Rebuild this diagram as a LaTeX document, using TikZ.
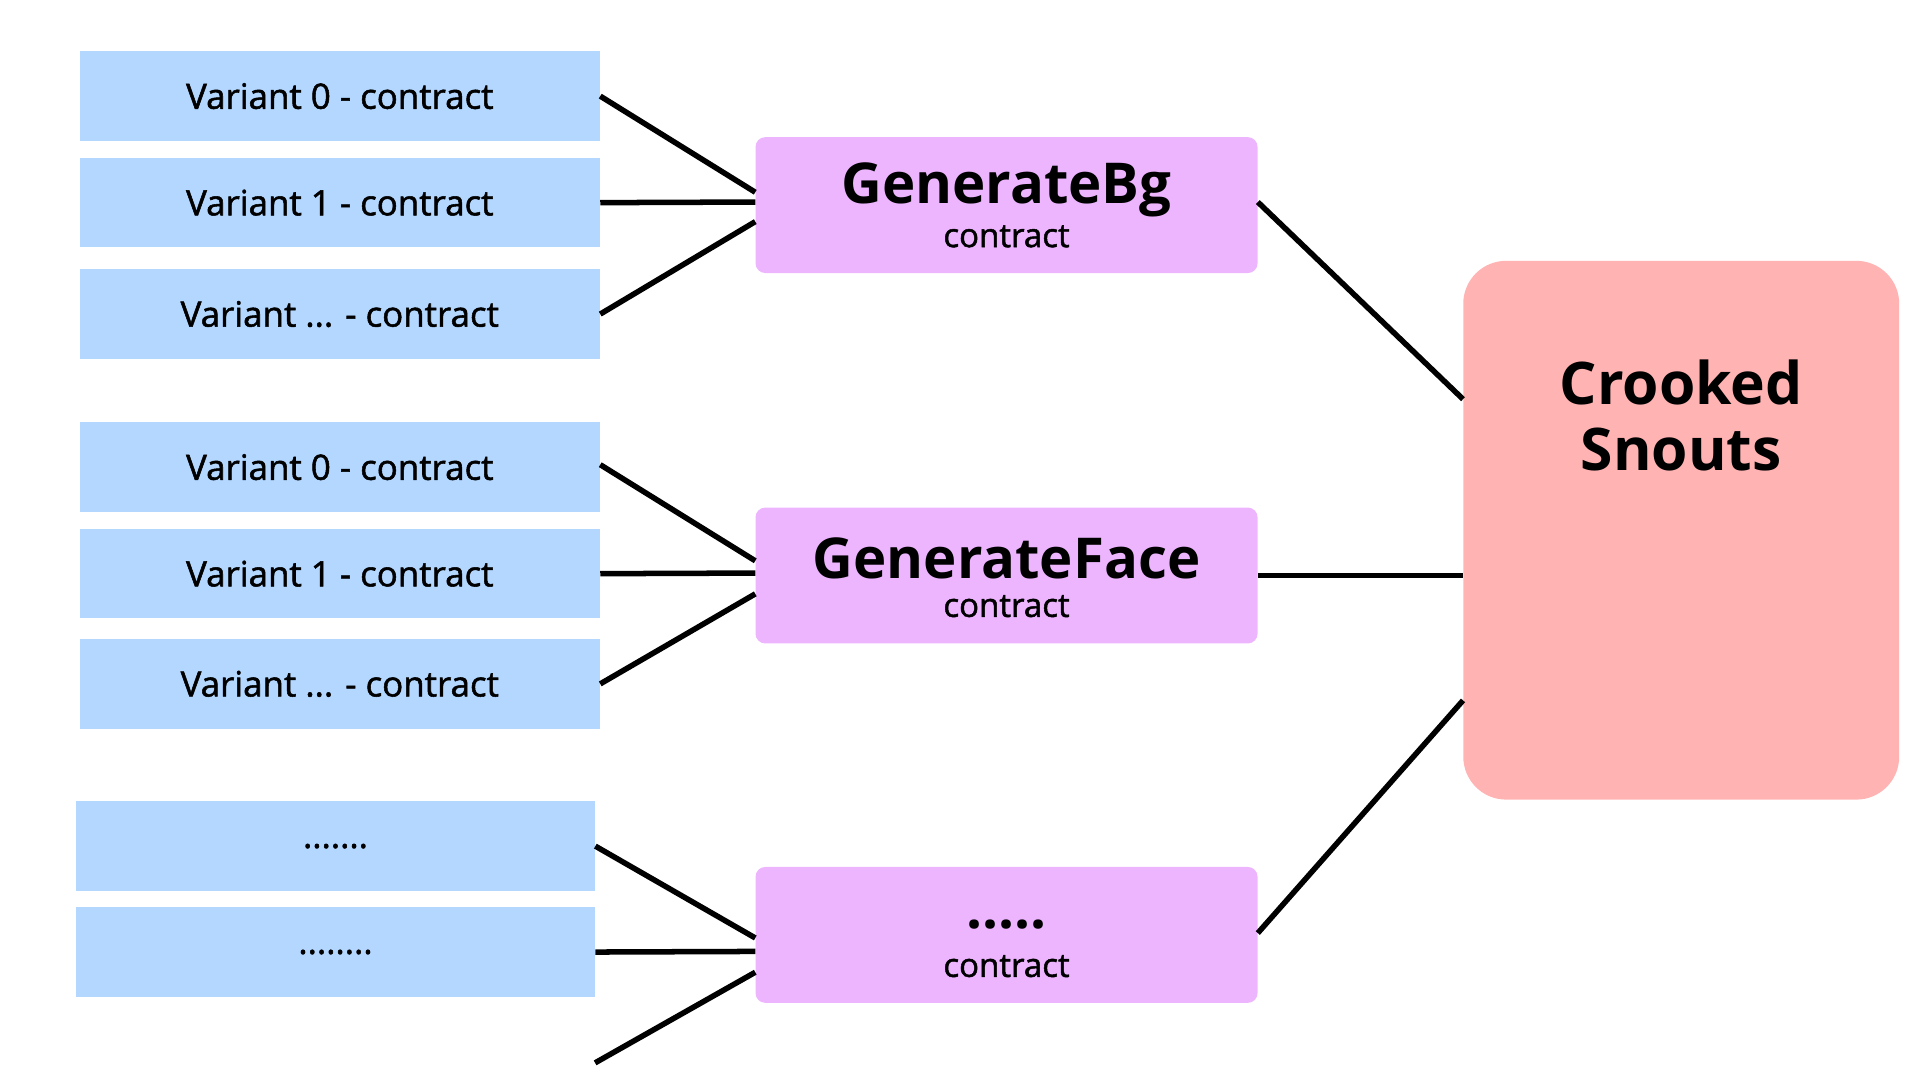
\documentclass[tikz,border=0pt]{standalone}
\usepackage{fontspec}
\setmainfont{Open Sans}
\newfontfamily\semib{Open Sans}[FakeBold=1.5]
\begin{document}
\begin{tikzpicture}[x=1pt,y=-1pt,
 blue/.style={fill={rgb,255:red,179;green,215;blue,255},draw=none,minimum width=425pt,minimum height=73pt,inner sep=0pt,font=\semib\fontsize{28.5}{30}\selectfont},
 pink/.style={fill={rgb,255:red,237;green,181;blue,254},draw=none,rounded corners=8pt,minimum width=410pt,minimum height=111pt,inner sep=0pt},
 title/.style={font=\fontsize{46}{46}\selectfont\bfseries,inner sep=0pt},
 sub/.style={font=\semib\fontsize{27}{30}\selectfont,inner sep=0pt},
 conn/.style={line width=4.5pt}]
\useasboundingbox (0,0) rectangle (1568,882);
\node[blue] (a0) at (277.5,78.5) {Variant 0 - contract};
\node[blue] (a1) at (277.5,165.5) {Variant 1 - contract};
\node[blue] (a2) at (277.5,256.5) {Variant ... - contract};
\node[blue] (b0) at (277.5,381.5) {Variant 0 - contract};
\node[blue] (b1) at (277.5,468.5) {Variant 1 - contract};
\node[blue] (b2) at (277.5,558.5) {Variant ... - contract};
\node[blue,minimum width=424pt] (c0) at (274,691) {.......};
\node[blue,minimum width=424pt] (c1) at (274,777.5) {........};
\node[pink] (g1) at (822,167.5) {};
\node[title] (g1t) at (822,155) {GenerateBg};
\node[sub] (g1s) at (822,193) {contract};
\node[pink] (g2) at (822,470) {};
\node[title] (g2t) at (822,456) {GenerateFace};
\node[sub] (g2s) at (822,495) {contract};
\node[pink] (g3) at (822,763.5) {};
\node[title] (g3t) at (822,755) {.....};
\node[sub] (g3s) at (822,789) {contract};
\node[fill={rgb,255:red,255;green,179;blue,179},rounded corners=35pt,minimum width=356pt,minimum height=440pt,inner sep=0pt] (cs) at (1373,433) {};
\node[font=\fontsize{48}{54}\selectfont\bfseries,align=center] (cst) at (1373,339) {Crooked\\Snouts};
\coordinate (free) at (486,868);
\draw[conn] (a0.east) -- ([yshift=10.5pt]g1.west);
\draw[conn] (a1.east) -- ([yshift=2.5pt]g1.west);
\draw[conn] (a2.east) -- ([yshift=-13.5pt]g1.west);
\draw[conn] ([yshift=2pt]b0.east) -- ([yshift=12pt]g2.west);
\draw[conn] (b1.east) -- ([yshift=2pt]g2.west);
\draw[conn] (b2.east) -- ([yshift=-15pt]g2.west);
\draw[conn] (c0.east) -- ([yshift=-2.5pt]g3.west);
\draw[conn] (c1.east) -- ([yshift=-13.5pt]g3.west);
\draw[conn] (free) -- ([yshift=-30.5pt]g3.west);
\draw[conn] ([yshift=2.5pt]g1.east) -- ([yshift=107pt]cs.west);
\draw[conn] (g2.east) -- ([yshift=-37pt]cs.west);
\draw[conn] ([yshift=1.5pt]g3.east) -- ([yshift=-139pt]cs.west);
\end{tikzpicture}
\end{document}
